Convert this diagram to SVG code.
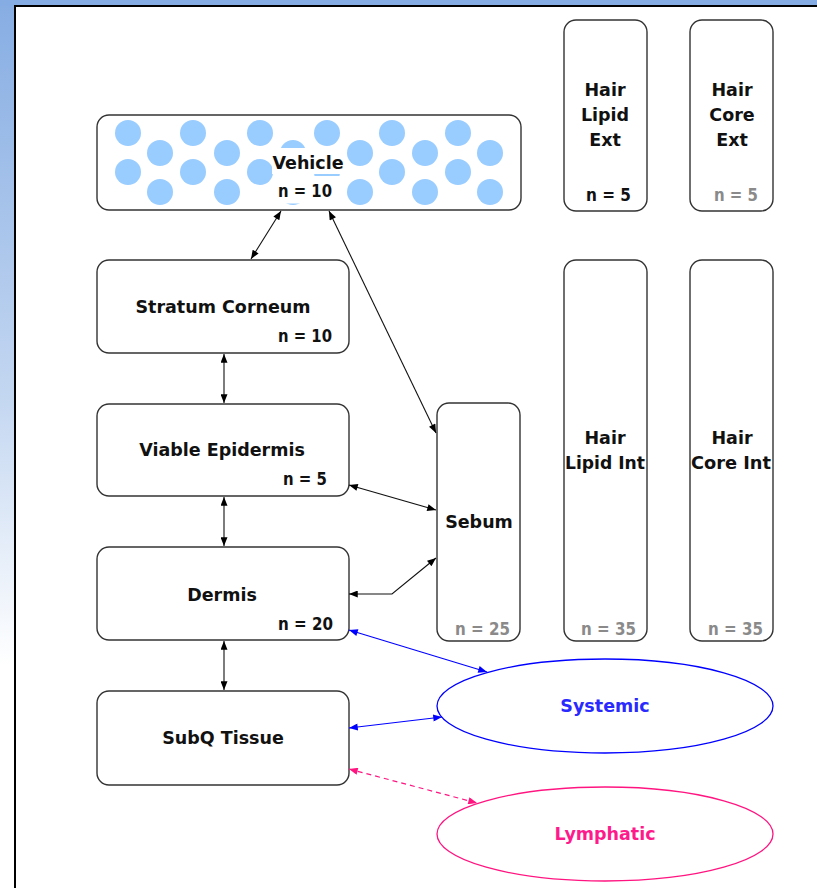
<svg xmlns="http://www.w3.org/2000/svg" width="817" height="888" viewBox="0 0 817 888">
<defs>
<linearGradient id="side" x1="0" y1="0" x2="0" y2="1">
<stop offset="0" stop-color="#86ade3"/>
<stop offset="0.45" stop-color="#c4d7f1"/>
<stop offset="0.75" stop-color="#ffffff"/>
</linearGradient>
<marker id="ak" viewBox="0 0 10 8" refX="10" refY="4" markerWidth="10" markerHeight="7" markerUnits="userSpaceOnUse" orient="auto-start-reverse"><path d="M0,0 L10,4 L0,8 z" fill="#000"/></marker>
<marker id="ab" viewBox="0 0 10 8" refX="10" refY="4" markerWidth="10" markerHeight="7" markerUnits="userSpaceOnUse" orient="auto-start-reverse"><path d="M0,0 L10,4 L0,8 z" fill="#0000ff"/></marker>
<marker id="ap" viewBox="0 0 10 8" refX="10" refY="4" markerWidth="10" markerHeight="7" markerUnits="userSpaceOnUse" orient="auto-start-reverse"><path d="M0,0 L10,4 L0,8 z" fill="#ff1480"/></marker>
</defs>
<style>
.box{fill:#fff;stroke:#333;stroke-width:1.4}
.t{font-family:"DejaVu Sans","Liberation Sans",sans-serif;font-weight:bold;font-size:17.5px;fill:#111;text-anchor:middle}
.n{font-family:"DejaVu Sans","Liberation Sans",sans-serif;font-weight:bold;font-size:17.5px;fill:#111}
.g{fill:#8a8a8a}
.dot{fill:#99ccff}
.c{fill:none;stroke:#111;stroke-width:1.1;marker-start:url(#ak);marker-end:url(#ak)}
.cb{fill:none;stroke:#0000ff;stroke-width:1.2;marker-start:url(#ab);marker-end:url(#ab)}
.cp{fill:none;stroke:#ff1480;stroke-width:1.2;stroke-dasharray:5,4;marker-start:url(#ap);marker-end:url(#ap)}
</style>
<rect x="0" y="0" width="817" height="888" fill="#fff"/>
<rect x="0" y="0" width="15" height="888" fill="url(#side)"/>
<rect x="0" y="0" width="817" height="6" fill="#86ade3"/>
<rect x="14" y="5" width="2" height="883" fill="#000"/>
<rect x="14" y="5" width="803" height="2" fill="#000"/>

<g id="vehicle">
<rect class="box" x="97" y="115" width="424" height="95" rx="12"/>
<g>
<circle class="dot" cx="128" cy="133" r="13"/><circle class="dot" cx="128" cy="172" r="13"/>
<circle class="dot" cx="160" cy="153" r="13"/><circle class="dot" cx="160" cy="192" r="13"/>
<circle class="dot" cx="193" cy="133" r="13"/><circle class="dot" cx="193" cy="172" r="13"/>
<circle class="dot" cx="227" cy="153" r="13"/><circle class="dot" cx="227" cy="192" r="13"/>
<circle class="dot" cx="260" cy="133" r="13"/><circle class="dot" cx="260" cy="172" r="13"/>
<circle class="dot" cx="293" cy="153" r="13"/><circle class="dot" cx="293" cy="192" r="13"/>
<circle class="dot" cx="327" cy="133" r="13"/><circle class="dot" cx="327" cy="172" r="13"/>
<circle class="dot" cx="360" cy="153" r="13"/><circle class="dot" cx="360" cy="192" r="13"/>
<circle class="dot" cx="392" cy="133" r="13"/><circle class="dot" cx="392" cy="172" r="13"/>
<circle class="dot" cx="425" cy="153" r="13"/><circle class="dot" cx="425" cy="192" r="13"/>
<circle class="dot" cx="458" cy="133" r="13"/><circle class="dot" cx="458" cy="172" r="13"/>
<circle class="dot" cx="490" cy="153" r="13"/><circle class="dot" cx="490" cy="192" r="13"/>
</g>
<rect x="272" y="148" width="73" height="26" fill="#fff"/>
<rect x="276" y="176" width="64" height="27.5" fill="#fff"/>
<text class="t" x="308" y="169">Vehicle</text>
<text class="n" x="278" y="197" textLength="54" lengthAdjust="spacingAndGlyphs">n = 10</text>
</g>

<g id="stratum-corneum">
<rect class="box" x="97" y="260" width="252" height="93" rx="12"/>
<text class="t" x="223" y="313">Stratum Corneum</text>
<text class="n" x="278" y="342" textLength="54" lengthAdjust="spacingAndGlyphs">n = 10</text>
</g>

<g id="viable-epidermis">
<rect class="box" x="97" y="404" width="252" height="92" rx="12"/>
<text class="t" x="222" y="456">Viable Epidermis</text>
<text class="n" x="283" y="485" textLength="44" lengthAdjust="spacingAndGlyphs">n = 5</text>
</g>

<g id="dermis">
<rect class="box" x="97" y="547" width="252" height="93" rx="12"/>
<text class="t" x="222" y="601">Dermis</text>
<text class="n" x="278" y="630" textLength="55" lengthAdjust="spacingAndGlyphs">n = 20</text>
</g>

<g id="subq-tissue">
<rect class="box" x="97" y="691" width="252" height="94" rx="12"/>
<text class="t" x="223" y="744">SubQ Tissue</text>
</g>

<g id="sebum">
<rect class="box" x="437" y="403" width="83" height="238" rx="12"/>
<text class="t" x="479" y="528">Sebum</text>
<text class="n g" x="455" y="635" textLength="55" lengthAdjust="spacingAndGlyphs">n = 25</text>
</g>

<g id="hair-lipid-ext">
<rect class="box" x="564" y="20" width="83" height="191" rx="12"/>
<text class="t" x="605" y="96">Hair</text>
<text class="t" x="605" y="121">Lipid</text>
<text class="t" x="605" y="146">Ext</text>
<text class="n" x="586" y="201" textLength="45" lengthAdjust="spacingAndGlyphs">n = 5</text>
</g>

<g id="hair-core-ext">
<rect class="box" x="690" y="20" width="83" height="191" rx="12"/>
<text class="t" x="732" y="96">Hair</text>
<text class="t" x="732" y="121">Core</text>
<text class="t" x="732" y="146">Ext</text>
<text class="n g" x="714" y="201" textLength="44" lengthAdjust="spacingAndGlyphs">n = 5</text>
</g>

<g id="hair-lipid-int">
<rect class="box" x="564" y="260" width="83" height="381" rx="12"/>
<text class="t" x="605" y="444">Hair</text>
<text class="t" x="605" y="469" textLength="80" lengthAdjust="spacingAndGlyphs">Lipid Int</text>
<text class="n g" x="581" y="635" textLength="55" lengthAdjust="spacingAndGlyphs">n = 35</text>
</g>

<g id="hair-core-int">
<rect class="box" x="690" y="260" width="83" height="381" rx="12"/>
<text class="t" x="732" y="444">Hair</text>
<text class="t" x="731" y="469" textLength="80" lengthAdjust="spacingAndGlyphs">Core Int</text>
<text class="n g" x="708" y="635" textLength="55" lengthAdjust="spacingAndGlyphs">n = 35</text>
</g>

<g id="systemic">
<ellipse cx="605" cy="706" rx="168" ry="47" fill="#fff" stroke="#0000ff" stroke-width="1.3"/>
<text class="t" x="605" y="712" style="fill:#2a2aff">Systemic</text>
</g>

<g id="lymphatic">
<ellipse cx="605" cy="834" rx="168" ry="47" fill="#fff" stroke="#ff1480" stroke-width="1.3"/>
<text class="t" x="605" y="840" style="fill:#ff1a8c">Lymphatic</text>
</g>

<g id="connectors">
<line class="c" x1="281" y1="211" x2="251" y2="259"/>
<line class="c" x1="329" y1="211" x2="436" y2="433"/>
<line class="c" x1="224" y1="354" x2="224" y2="403"/>
<line class="c" x1="349" y1="485" x2="436" y2="510"/>
<polyline class="c" points="436,558 392,594 349,594"/>
<line class="c" x1="224" y1="497" x2="224" y2="546"/>
<line class="c" x1="224" y1="641" x2="224" y2="690"/>
<line class="cb" x1="349" y1="630" x2="487" y2="672"/>
<line class="cb" x1="349" y1="728" x2="442" y2="717"/>
<line class="cp" x1="349" y1="769" x2="477" y2="803"/>
</g>
</svg>
